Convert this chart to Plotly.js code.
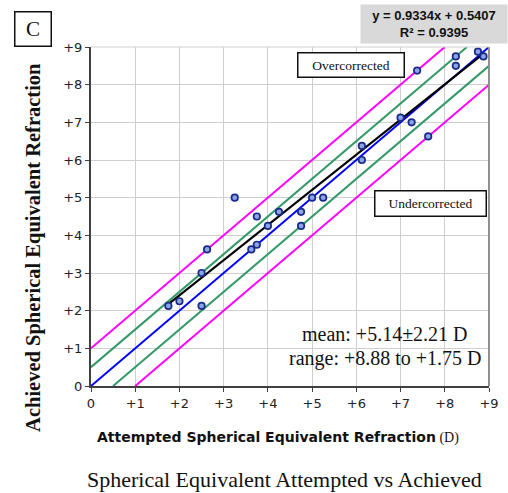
<!DOCTYPE html>
<html><head><meta charset="utf-8">
<script src="https://cdn.plot.ly/plotly-3.0.1.min.js"></script>
<style>html,body{margin:0;padding:0;background:#fff}#chart{width:508px;height:493px}</style>
</head><body><div id="chart"></div>
<script>
// Data
var attempted = [1.75, 2.0, 2.5, 2.5, 2.625, 3.25, 3.625, 3.75, 3.75, 4.0, 4.25, 4.75, 4.75, 5.0, 5.25,
                 6.125, 6.125, 7.0, 7.25, 7.625, 7.375, 8.25, 8.25, 8.75, 8.875];
var achieved  = [2.125, 2.25, 2.125, 3.0, 3.625, 5.0, 3.625, 3.75, 4.5, 4.25, 4.625, 4.625, 4.25, 5.0, 5.0,
                 6.0, 6.375, 7.125, 7.0, 6.625, 8.375, 8.5, 8.75, 8.875, 8.75];
var slope = 0.9334, intercept = 0.5407, r2 = 0.9395;
var fitX = [1.75, 8.875];
var diagX = [0, 9];
var offsetsGreen = [0.5, -0.5];
var offsetsMagenta = [1, -1];
var tickVals = [0,1,2,3,4,5,6,7,8,9];
var tickText = ['0','+1','+2','+3','+4','+5','+6','+7','+8','+9'];

function bandLine(off){
  var x0 = Math.max(0, -off), x1 = Math.min(9, 9 - off);
  return {x:[x0, x1], y:[x0 + off, x1 + off]};
}
var traces = [];
offsetsMagenta.forEach(function(o){
  var l = bandLine(o);
  traces.push({x:l.x, y:l.y, mode:'lines', line:{color:'#ff00ff', width:2}, hoverinfo:'skip'});
});
offsetsGreen.forEach(function(o){
  var l = bandLine(o);
  traces.push({x:l.x, y:l.y, mode:'lines', line:{color:'#339966', width:2}, hoverinfo:'skip'});
});
traces.push({x:diagX, y:diagX, mode:'lines', line:{color:'#0000ff', width:2}});
traces.push({x:fitX, y:fitX.map(function(v){return slope*v+intercept;}), mode:'lines', line:{color:'#000000', width:2}});
traces.push({x:attempted, y:achieved, mode:'markers',
  marker:{symbol:'circle', size:6.5, color:'#8aa4e6', line:{color:'#1a2a8a', width:1.7}}});

var serif = 'Liberation Serif, DejaVu Serif, serif';
var sans = 'DejaVu Sans, Verdana, sans-serif';

var layout = {
  width:508, height:493,
  margin:{l:91, r:19, t:47, b:107},
  paper_bgcolor:'#fff', plot_bgcolor:'#fff',
  showlegend:false,
  xaxis:{range:[0,9], tickvals:tickVals, ticktext:tickText, showgrid:true, gridcolor:'#cfcfcf', gridwidth:1,
    zeroline:false, showline:true, linecolor:'#404040', linewidth:2, ticks:'outside', ticklen:4, tickcolor:'#404040',
    tickfont:{family:sans, size:13, color:'#222'}, fixedrange:true},
  yaxis:{range:[0,9], tickvals:tickVals, ticktext:tickText, showgrid:true, gridcolor:'#cfcfcf', gridwidth:1,
    zeroline:false, showline:true, linecolor:'#404040', linewidth:2, ticks:'outside', ticklen:4, tickcolor:'#404040',
    tickfont:{family:sans, size:13, color:'#222'}, fixedrange:true},
  shapes:[
    {type:'line', xref:'paper', yref:'paper', x0:1, x1:1, y0:0, y1:1, line:{color:'#909090', width:2}},
    {type:'line', xref:'paper', yref:'paper', x0:0, x1:1, y0:1, y1:1, line:{color:'#cfcfcf', width:1}}
  ],
  annotations:[
    {xref:'paper', yref:'paper', x:-0.146, y:0.41, xanchor:'center', yanchor:'middle', textangle:-90, showarrow:false,
     text:'<b>Achieved Spherical Equivalent Refraction</b>', font:{family:serif, size:20.5, color:'#111'}},
    {xref:'paper', yref:'paper', x:0.47, y:-0.153, xanchor:'center', showarrow:false, yanchor:'middle',
     text:'<b>Attempted Spherical Equivalent Refraction</b><span style="font-family:Liberation Serif"> (D)</span>',
     font:{family:sans, size:14, color:'#111'}},
    {xref:'paper', yref:'paper', x:0.487, y:-0.277, xanchor:'center', showarrow:false, yanchor:'middle',
     text:'Spherical Equivalent Attempted vs Achieved', font:{family:serif, size:22, color:'#111'}},
    {xref:'paper', yref:'paper', x:-0.1445, y:1.052, xanchor:'center', yanchor:'middle', showarrow:false,
     text:'C', font:{family:serif, size:21, color:'#111'}, bordercolor:'#111', borderwidth:1.5, borderpad:3, bgcolor:'#fff', width:29, height:27},
    {xref:'paper', yref:'paper', x:1.048, y:1.067, xanchor:'right', yanchor:'middle', showarrow:false, align:'center',
     text:'<b>y = ' + slope.toFixed(4) + 'x + ' + intercept.toFixed(4) + '</b><br><b>R² = ' + r2.toFixed(4) + '</b>',
     font:{family:'Liberation Sans, Arial, sans-serif', size:13, color:'#111'}, bgcolor:'#d9d9d9', borderpad:3, width:140},
    {xref:'paper', yref:'paper', x:0.654, y:0.948, xanchor:'center', yanchor:'middle', showarrow:false,
     text:'Overcorrected', font:{family:serif, size:13.5, color:'#111'}, bordercolor:'#111', borderwidth:1.5, bgcolor:'#fff', width:101, height:19, borderpad:2},
    {xref:'paper', yref:'paper', x:0.852, y:0.537, xanchor:'center', yanchor:'middle', showarrow:false,
     text:'Undercorrected', font:{family:serif, size:13.5, color:'#111'}, bordercolor:'#111', borderwidth:1.5, bgcolor:'#fff', width:106, height:20, borderpad:2},
    {xref:'paper', yref:'paper', x:0.739, y:0.153, xanchor:'center', yanchor:'middle', showarrow:false,
     text:'mean: +5.14±2.21 D', font:{family:serif, size:20, color:'#111'}},
    {xref:'paper', yref:'paper', x:0.739, y:0.08, xanchor:'center', yanchor:'middle', showarrow:false,
     text:'range: +8.88 to +1.75 D', font:{family:serif, size:20, color:'#111'}}
  ]
};
Plotly.newPlot('chart', traces, layout, {displayModeBar:false, staticPlot:true});
</script></body></html>
